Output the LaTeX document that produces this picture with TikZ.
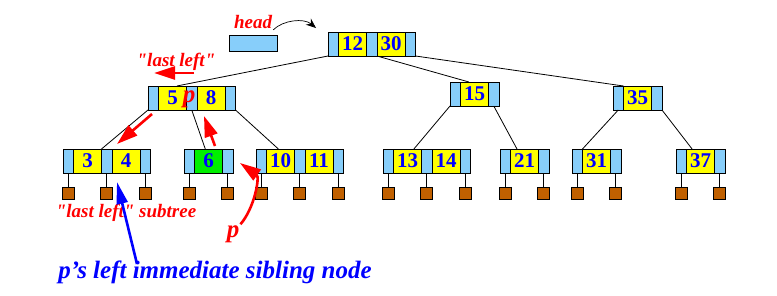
\documentclass[tikz,border=0pt]{standalone}
\usepackage{fontspec}
\setmainfont{Liberation Serif}
\newfontfamily\notefont{Liberation Serif}
\usepackage{xcolor}
\usepackage{tikz}
\usetikzlibrary{
  arrows.meta,
  positioning
}

\definecolor{ptrblue}{RGB}{135,206,250}
\definecolor{keyyellow}{RGB}{255,255,0}
\definecolor{keygreen}{RGB}{0,240,0}
\definecolor{leafbrown}{RGB}{192,96,0}
\definecolor{txtblue}{RGB}{0,0,255}
\definecolor{txtred}{RGB}{255,0,0}

\begin{document}
\begin{tikzpicture}[
  x=1pt, y=-1pt,
  node distance=0pt,
  ptr/.style={rectangle, draw, line width=1pt, fill=ptrblue, minimum width=10.5pt, minimum height=24pt, inner sep=0pt, outer sep=0pt},
  key/.style={rectangle, draw, line width=1pt, fill=keyyellow, minimum width=28pt, minimum height=24pt, inner sep=0pt, outer sep=0pt, text=txtblue, font=\fontsize{21}{21}\selectfont\bfseries},
  leaf/.style={rectangle, draw, line width=1pt, fill=leafbrown, minimum size=12pt, inner sep=0pt, outer sep=0pt},
  link/.style={draw, line width=0.8pt},
  redtext/.style={text=txtred, inner sep=1pt, font=\notefont\fontsize{19}{19}\selectfont\bfseries\itshape},
  redarrow/.style={draw=txtred, line width=2.6pt, -{Triangle[length=21pt, width=13pt]}},
  bluearrow/.style={draw=txtblue, line width=2.6pt, -{Triangle[length=22pt, width=11pt]}},
]
\useasboundingbox (0,0) rectangle (777,295);

% root
\node[ptr] (r-p0) at (333.25,44) {};
\node[key, right=of r-p0] (r-k1) {12};
\node[ptr, right=of r-k1] (r-p1) {};
\node[key, right=of r-p1] (r-k2) {30};
\node[ptr, right=of r-k2] (r-p2) {};

% second level
\node[ptr] (b-p0) at (153.25,98) {};
\node[key, right=of b-p0] (b-k1) {5};
\node[ptr, right=of b-k1] (b-p1) {};
\node[key, right=of b-p1] (b-k2) {8};
\node[ptr, right=of b-k2] (b-p2) {};

\node[ptr] (c-p0) at (455.25,94) {};
\node[key, right=of c-p0] (c-k1) {15};
\node[ptr, right=of c-k1] (c-p1) {};

\node[ptr] (d-p0) at (618.25,98) {};
\node[key, right=of d-p0] (d-k1) {35};
\node[ptr, right=of d-k1] (d-p1) {};

% third level
\node[ptr] (e-p0) at (68.25,161) {};
\node[key, right=of e-p0] (e-k1) {3};
\node[ptr, right=of e-k1] (e-p1) {};
\node[key, right=of e-p1] (e-k2) {4};
\node[ptr, right=of e-k2] (e-p2) {};

\node[ptr] (f-p0) at (189.25,161) {};
\node[key, fill=keygreen, right=of f-p0] (f-k1) {6};
\node[ptr, right=of f-k1] (f-p1) {};

\node[ptr] (g-p0) at (261.25,161) {};
\node[key, right=of g-p0] (g-k1) {10};
\node[ptr, right=of g-k1] (g-p1) {};
\node[key, right=of g-p1] (g-k2) {11};
\node[ptr, right=of g-k2] (g-p2) {};

\node[ptr] (h-p0) at (388.25,161) {};
\node[key, right=of h-p0] (h-k1) {13};
\node[ptr, right=of h-k1] (h-p1) {};
\node[key, right=of h-p1] (h-k2) {14};
\node[ptr, right=of h-k2] (h-p2) {};

\node[ptr] (i-p0) at (505.25,161) {};
\node[key, right=of i-p0] (i-k1) {21};
\node[ptr, right=of i-k1] (i-p1) {};

\node[ptr] (j-p0) at (577.25,161) {};
\node[key, right=of j-p0] (j-k1) {31};
\node[ptr, right=of j-k1] (j-p1) {};

\node[ptr] (k-p0) at (681.25,161) {};
\node[key, right=of k-p0] (k-k1) {37};
\node[ptr, right=of k-k1] (k-p1) {};

% leaves
\foreach \p in {e-p0,e-p1,e-p2,f-p0,f-p1,g-p0,g-p1,g-p2,h-p0,h-p1,h-p2,i-p0,i-p1,j-p0,j-p1,k-p0,k-p1} {
  \node[leaf, below=14pt of \p] (leaf-\p) {};
  \draw[line width=1pt] (\p) -- (leaf-\p);
}

\draw[link] (r-p0.south west) -- (b-k1.70);
\draw[link] (r-p1.south east) -- (c-k1.115);
\draw[link] (r-p2.south east) -- (d-p0.north east);
\draw[link] (b-p0.south west) -- (e-p1.north west);
\draw[link] (b-p1.south) -- (f-k1.105);
\draw[link] (b-p2.south east) -- (g-k1.100);
\draw[link] (c-p0.south west) -- (h-k1.62);
\draw[link] (c-p1.south) -- (i-k1.122);
\draw[link] (d-p0.south) -- (j-k1.north west);
\draw[link] (d-p1.south east) -- (k-k1.125);

% head pointer
\node[ptr, minimum width=48pt, minimum height=16pt] (headptr) at (253,43) {};
\node[redtext] (headlbl) at (253,22) {head};
\coordinate (headtip) at (316,28);
\draw[line width=0.7pt, -{Stealth[length=10pt, width=8pt]}] (headlbl.south east) .. controls +(10,-10) and +(-12,-10) .. (headtip);

% annotate
\node[redtext] (lastlbl) at (176,62) {"last left"};
\coordinate (lastfrom) at (194,73);
\coordinate (lastto) at (154,73);
\draw[redarrow] (lastfrom) -- (lastto);

\node[redtext, font=\notefont\fontsize{25}{25}\selectfont\bfseries\itshape] (pmark) at (189,99) {p};
\coordinate (downfrom) at (152,114);
\coordinate (downto) at (117,144);
\draw[redarrow] (downfrom) -- (downto);
\coordinate (upfrom) at (215,146);
\coordinate (upto) at (204,116);
\draw[redarrow] (upfrom) -- (upto);

\node[redtext] (subtreelbl) at (126,213) {"last left" subtree};
\node[redtext, font=\notefont\fontsize{25}{25}\selectfont\bfseries\itshape] (plbl) at (233,234) {p};
\coordinate (ptip) at (240,163);
\draw[redarrow] (plbl.north east) .. controls +(14,-16) and +(20,14) .. (ptip);

\node[text=txtblue, font=\fontsize{25}{25}\selectfont\bfseries\itshape] (siblbl) at (215,272) {p's left immediate sibling node};
\coordinate (sibfrom) at (137,264);
\coordinate (sibto) at (117,182);
\draw[bluearrow] (sibfrom) -- (sibto);
\end{tikzpicture}
\end{document}
